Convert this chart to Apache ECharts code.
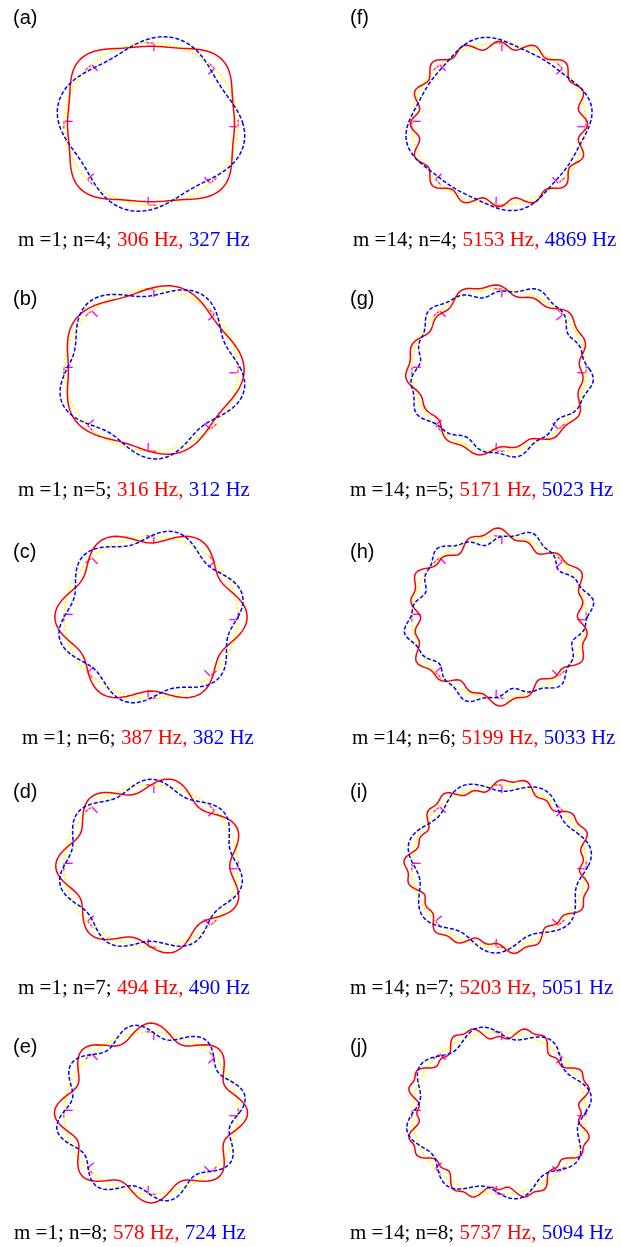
<!DOCTYPE html>
<html>
<head>
<meta charset="utf-8">
<script src="https://cdn.jsdelivr.net/npm/echarts@6/dist/echarts.min.js"></script>
<style>
html, body { margin: 0; padding: 0; background: #ffffff; }
#chart { width: 621px; height: 1247px; }
</style>
</head>
<body>
<div id="chart"></div>
<script>
// ---- mode data -----------------------------------------------------------
const panelLetters = ['a', 'b', 'c', 'd', 'e', 'f', 'g', 'h', 'i', 'j'];
const mValues = [1, 1, 1, 1, 1, 14, 14, 14, 14, 14];
const nValues = [4, 5, 6, 7, 8, 4, 5, 6, 7, 8];
const redHz  = [306, 316, 387, 494, 578, 5153, 5171, 5199, 5203, 5737];
const blueHz = [327, 312, 382, 490, 724, 4869, 5023, 5033, 5051, 5094];

// deformed ring shapes: [mean radius, [[harmonic, amplitude, crest angle (deg)], ...]]
const redShape = [
  [1.03, [[4, 0.09, 45], [8, 0.02, 0]]],
  [1.01, [[5, 0.06, 0]]],
  [1.01, [[6, 0.095, 0]]],
  [1.00, [[7, 0.095, 180]]],
  [1.01, [[8, 0.10, 0]]],
  [1.00, [[16, 0.05, 90], [4, 0.03, 45]]],
  [1.00, [[5, 0.06, 33], [15, 0.03, 90]]],
  [1.00, [[6, 0.07, 34], [18, 0.035, 90]]],
  [1.01, [[7, 0.07, 79], [21, 0.03, 90]]],
  [1.00, [[8, 0.085, 22.5], [24, 0.03, 90]]]
];
const blueShape = [
  [1.01, [[4, 0.085, -14]]],
  [1.005, [[5, 0.095, -14]]],
  [1.00, [[6, 0.085, 15]]],
  [1.00, [[7, 0.07, 90]]],
  [1.01, [[8, 0.09, 11]]],
  [1.00, [[4, 0.07, 12], [8, 0.015, 12]]],
  [1.00, [[5, 0.07, 62], [15, 0.025, 90]]],
  [1.00, [[6, 0.08, 10], [18, 0.025, 90]]],
  [1.00, [[7, 0.075, 10]]],
  [1.00, [[8, 0.08, 12]]]
];

// reference frames drawn on the undeformed ring
const markerAngles = [90, 45, 0, -45, -90, -135, 180, 135];
const markerTilt = -2;

// ---- layout --------------------------------------------------------------
const colX = [151, 499];
const rowY = [124, 370, 617, 866, 1113];
const RX = 87, RY = 81, SPAN = 1.3;
const letterX = [13, 350];
const letterY = [19, 300, 553, 793, 1048];
const captionX = [18, 18, 22, 18, 14, 353, 350, 352, 350, 350];
const captionY = [242, 492, 740, 990, 1235];

function ring(shape) {
  const r0 = shape[0], terms = shape[1];
  const pts = [];
  for (let d = 0; d <= 360; d += 1) {
    const t = d * Math.PI / 180;
    let r = r0;
    for (const [k, a, p] of terms) r += a * Math.cos(k * (t - p * Math.PI / 180));
    pts.push([r * Math.cos(t), r * Math.sin(t)]);
  }
  return pts;
}

function frames() {
  const L = 0.1;
  return markerAngles.map(function (a) {
    const t = (a + markerTilt) * Math.PI / 180;
    const c = Math.cos(t), s = Math.sin(t);
    return { coords: [[c - L * s, s + L * c], [c, s], [(1 - L) * c, (1 - L) * s]] };
  });
}

const grids = [], xAxes = [], yAxes = [], series = [], graphics = [];
for (let i = 0; i < 10; i++) {
  const col = i < 5 ? 0 : 1, row = i % 5;
  const cx = colX[col], cy = rowY[row];
  grids.push({ left: cx - SPAN * RX, top: cy - SPAN * RY, width: 2 * SPAN * RX, height: 2 * SPAN * RY });
  xAxes.push({ gridIndex: i, type: 'value', min: -SPAN, max: SPAN, show: false });
  yAxes.push({ gridIndex: i, type: 'value', min: -SPAN, max: SPAN, show: false });
  const base = { type: 'line', xAxisIndex: i, yAxisIndex: i, showSymbol: false, symbol: 'none', silent: true, animation: false };
  series.push(Object.assign({}, base, { data: ring([1, []]), lineStyle: { color: '#ffff00', width: 1.6, type: [2, 2] } }));
  series.push(Object.assign({}, base, { data: ring(redShape[i]), lineStyle: { color: '#ff0000', width: 1.5 } }));
  series.push(Object.assign({}, base, { data: ring(blueShape[i]), lineStyle: { color: '#0000ff', width: 1.5, type: [4, 2] } }));
  series.push({ type: 'lines', coordinateSystem: 'cartesian2d', xAxisIndex: i, yAxisIndex: i, polyline: true, silent: true, animation: false,
    data: frames(), lineStyle: { color: '#ff00ff', width: 1.3, opacity: 1 } });

  graphics.push({ type: 'text', left: letterX[col], top: letterY[row] - 11,
    style: { text: '(' + panelLetters[i] + ')', font: '20px "Liberation Sans", Arial, sans-serif', fill: '#000' } });
  graphics.push({ type: 'text', left: captionX[i], top: captionY[row] - 12,
    style: {
      text: '{k|m =' + mValues[i] + '; n=' + nValues[i] + '; }{r|' + redHz[i] + ' Hz,}{b| ' + blueHz[i] + ' Hz}',
      rich: {
        k: { fill: '#000', font: '21px "Liberation Serif", "Times New Roman", serif' },
        r: { fill: '#ff0000', font: '21px "Liberation Serif", "Times New Roman", serif' },
        b: { fill: '#0000ff', font: '21px "Liberation Serif", "Times New Roman", serif' }
      }
    } });
}

const chart = echarts.init(document.getElementById('chart'), null, { renderer: 'canvas' });
chart.setOption({
  animation: false,
  backgroundColor: '#ffffff',
  grid: grids,
  xAxis: xAxes,
  yAxis: yAxes,
  series: series,
  graphic: graphics
});
</script>
</body>
</html>
